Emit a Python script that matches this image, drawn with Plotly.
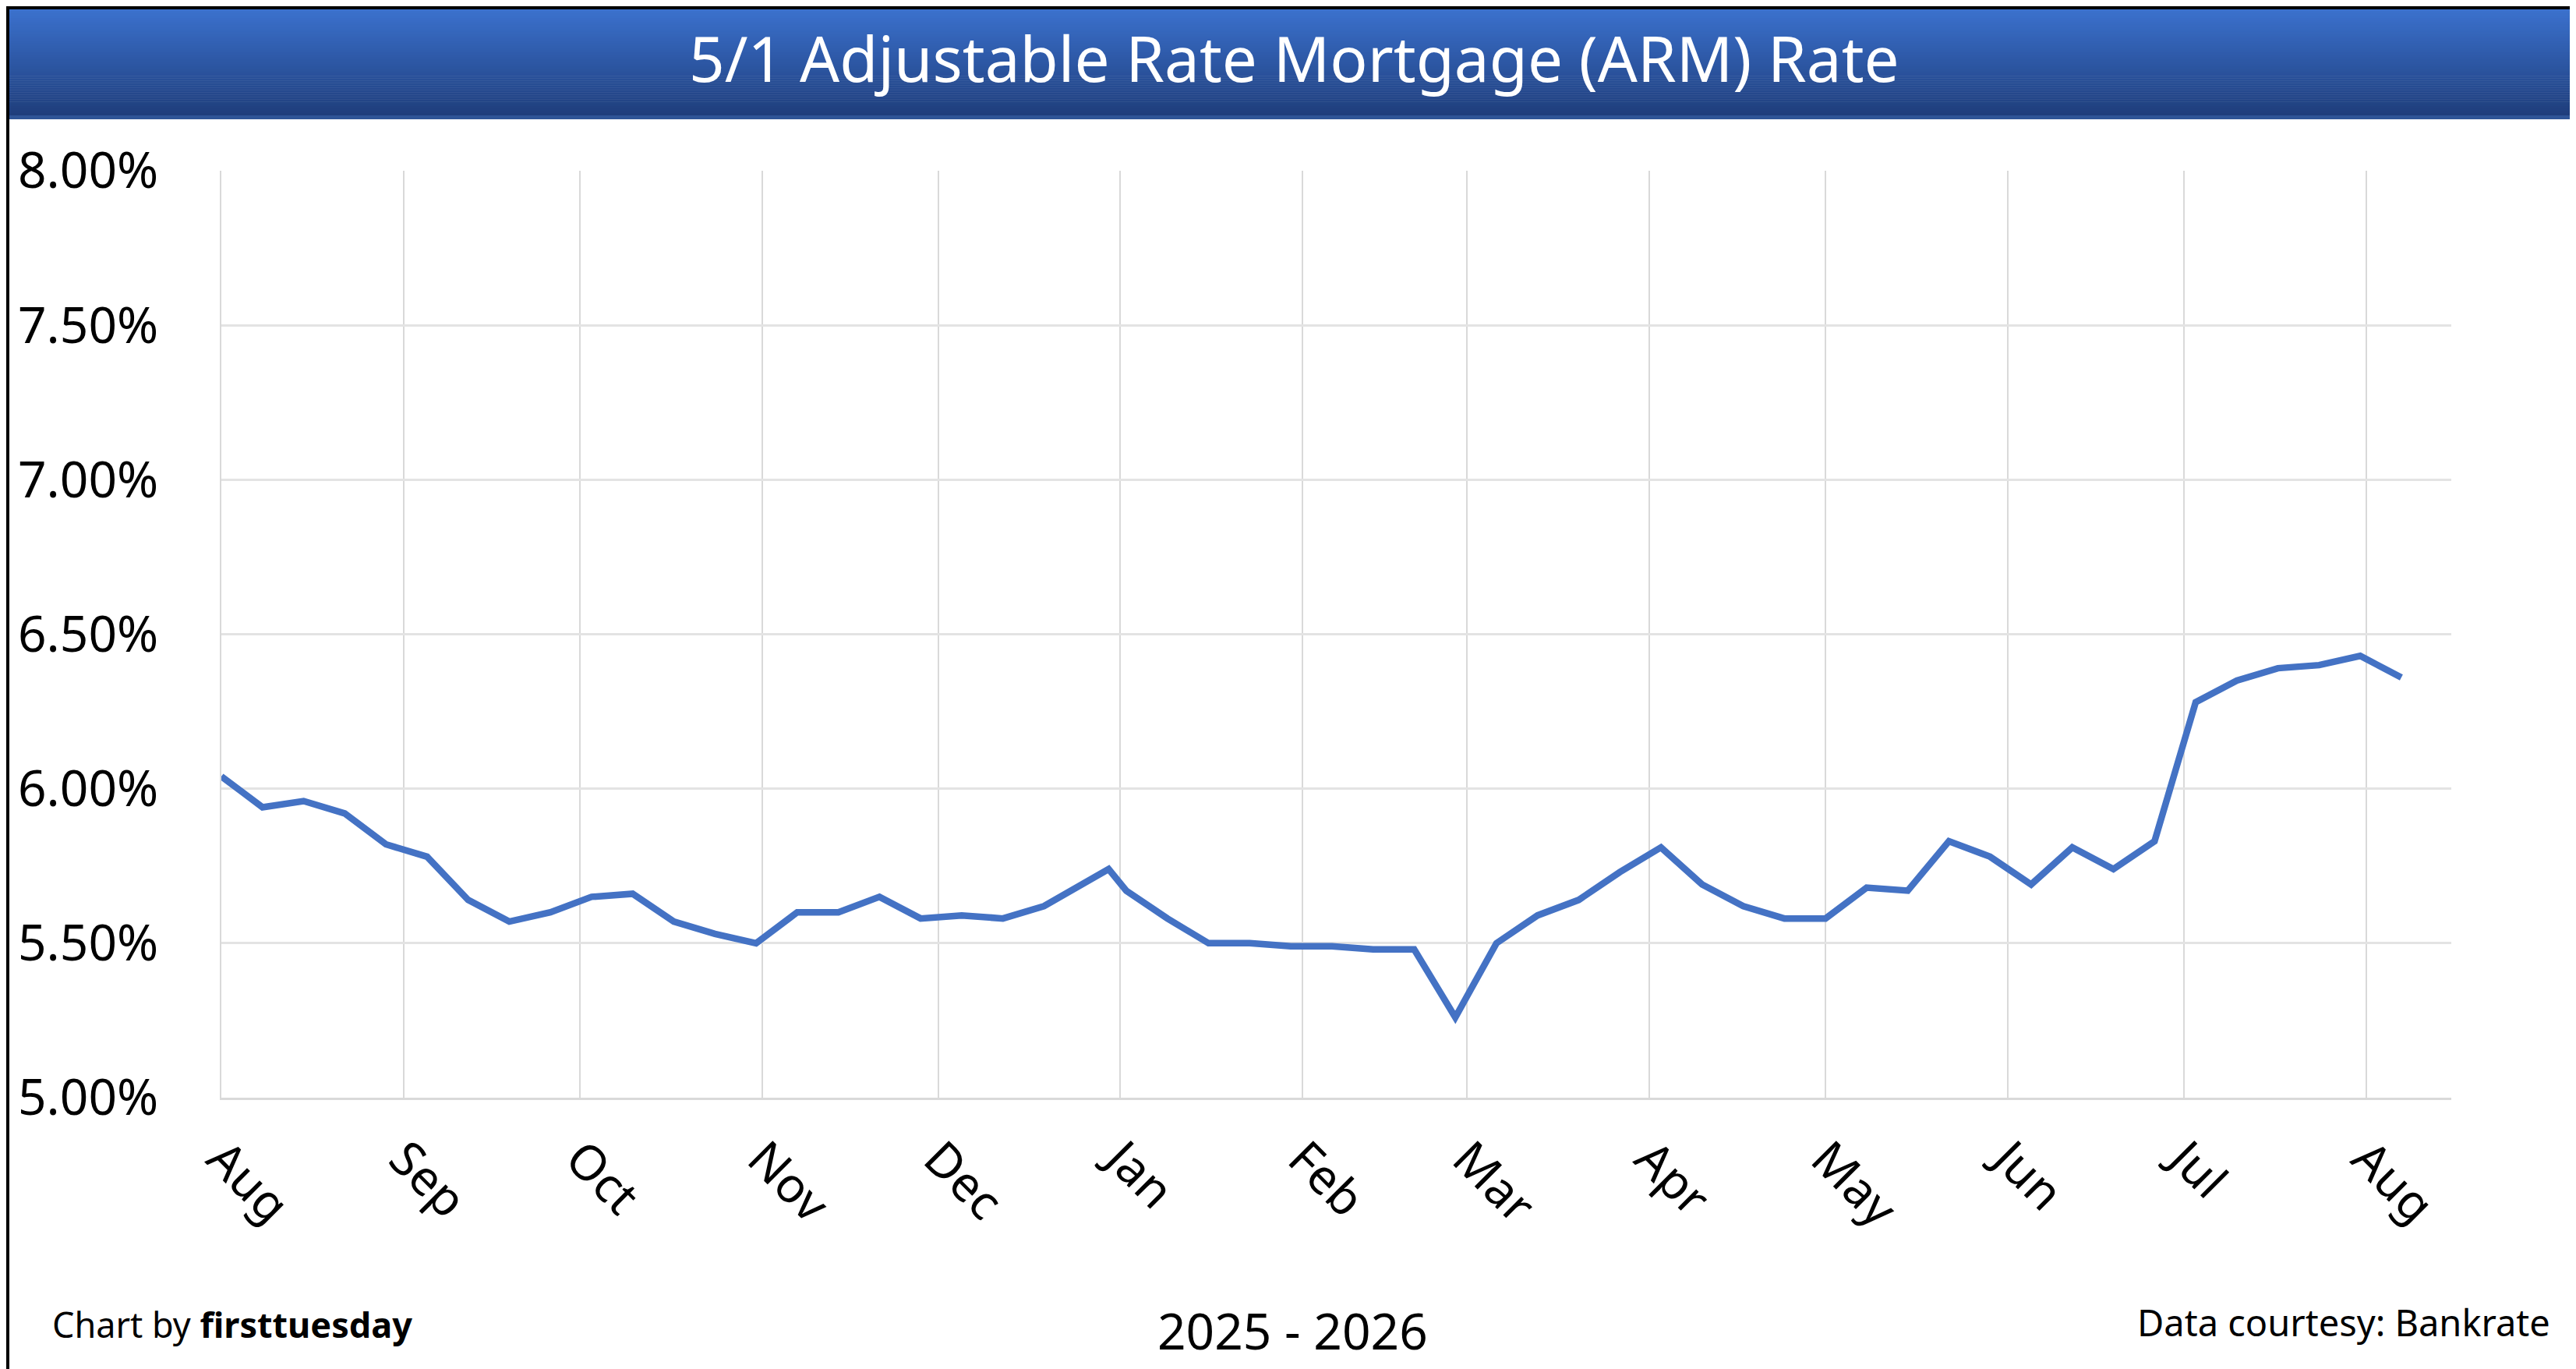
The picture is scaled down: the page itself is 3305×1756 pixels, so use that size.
import plotly.graph_objs as go

# weekly 5/1 ARM rate (percent), Bankrate
dates = ["2025-08-01", "2025-08-08", "2025-08-15", "2025-08-22", "2025-08-29",
         "2025-09-05", "2025-09-12", "2025-09-19", "2025-09-26",
         "2025-10-03", "2025-10-10", "2025-10-17", "2025-10-24", "2025-10-31",
         "2025-11-07", "2025-11-14", "2025-11-21", "2025-11-28",
         "2025-12-05", "2025-12-12", "2025-12-19", "2025-12-30",
         "2026-01-02", "2026-01-09", "2026-01-16", "2026-01-23", "2026-01-30",
         "2026-02-06", "2026-02-13", "2026-02-20", "2026-02-27",
         "2026-03-06", "2026-03-13", "2026-03-20", "2026-03-27",
         "2026-04-03", "2026-04-10", "2026-04-17", "2026-04-24",
         "2026-05-01", "2026-05-08", "2026-05-15", "2026-05-22", "2026-05-29",
         "2026-06-05", "2026-06-12", "2026-06-19", "2026-06-26",
         "2026-07-03", "2026-07-10", "2026-07-17", "2026-07-24", "2026-07-31",
         "2026-08-07"]

rates = [6.04, 5.94, 5.96, 5.92, 5.82,
         5.78, 5.64, 5.57, 5.60,
         5.65, 5.66, 5.57, 5.53, 5.50,
         5.60, 5.60, 5.65, 5.58,
         5.59, 5.58, 5.62, 5.74,
         5.67, 5.58, 5.50, 5.50, 5.49,
         5.49, 5.48, 5.48, 5.26,
         5.50, 5.59, 5.64, 5.73,
         5.81, 5.69, 5.62, 5.58,
         5.58, 5.68, 5.67, 5.83, 5.78,
         5.69, 5.81, 5.74, 5.83,
         6.28, 6.35, 6.39, 6.40, 6.43,
         6.36]

month_ticks = ["2025-08-01", "2025-09-01", "2025-10-01", "2025-11-01", "2025-12-01",
               "2026-01-01", "2026-02-01", "2026-03-01", "2026-04-01", "2026-05-01",
               "2026-06-01", "2026-07-01", "2026-08-01"]
month_labels = ["Aug", "Sep", "Oct", "Nov", "Dec", "Jan", "Feb", "Mar", "Apr",
                "May", "Jun", "Jul", "Aug"]

y_ticks = [5.0, 5.5, 6.0, 6.5, 7.0, 7.5, 8.0]
y_labels = ["5.00%", "5.50%", "6.00%", "6.50%", "7.00%", "7.50%", "8.00%"]

title = "5/1 Adjustable Rate Mortgage (ARM) Rate"
FONT = "Noto Sans"

# canvas and plot area in pixels
W, H = 3305, 1756
L, R, T, B = 276, 168, 211, 356
PW = W - L - R
PH = H - T - B

def px(x):
    return (x - L) / PW

def py(y):
    return 1 - (y - T) / PH

fig = go.Figure()

fig.add_scatter(x=dates, y=rates, mode='lines',
                line=dict(color='#4472C4', width=8.5), showlegend=False)

# title bar with a vertical gradient (stripes)
top_rgb = (59, 113, 205)
bot_rgb = (31, 62, 124)
y0, y1 = 3, 140
n = 46
step = (y1 - y0) / n
for i in range(n):
    t = i / (n - 1)
    c = tuple(int(round(top_rgb[k] + (bot_rgb[k] - top_rgb[k]) * t)) for k in range(3))
    fig.add_shape(type='rect', xref='paper', yref='paper', layer='below',
                  x0=px(0), x1=px(W), y0=py(y0 + step * (i + 1) + 0.5), y1=py(y0 + step * i),
                  fillcolor='rgb(%d,%d,%d)' % c, line_width=0)
fig.add_shape(type='rect', xref='paper', yref='paper', layer='below',
              x0=px(0), x1=px(W), y0=py(145), y1=py(140),
              fillcolor='#2F5597', line_width=0)

# outer black frame
fig.add_shape(type='rect', xref='paper', yref='paper',
              x0=px(2), x1=px(W - 2), y0=py(H - 2.5), y1=py(2),
              line=dict(color='black', width=4))

fig.add_annotation(text=title, xref='paper', yref='paper', x=px(W / 2), y=py(66),
                   xanchor='center', yanchor='middle', showarrow=False,
                   font=dict(family=FONT, size=80, color='white'))

fig.add_annotation(text="Chart by <b>firsttuesday</b>", xref='paper', yref='paper',
                   x=px(57), y=py(1690), xanchor='left', yanchor='middle', showarrow=False,
                   font=dict(family=FONT, size=45, color='black'))
fig.add_annotation(text="2025 - 2026", xref='paper', yref='paper',
                   x=px(1650), y=py(1698), xanchor='center', yanchor='middle', showarrow=False,
                   font=dict(family=FONT, size=64, color='black'))
fig.add_annotation(text="Data courtesy: Bankrate", xref='paper', yref='paper',
                   x=px(3266), y=py(1688), xanchor='right', yanchor='middle', showarrow=False,
                   font=dict(family=FONT, size=47, color='black'))

fig.update_xaxes(type='date', range=["2025-08-01", "2026-08-15 12:00"],
                 tickvals=month_ticks, ticktext=month_labels, tickangle=45,
                 showgrid=True, gridcolor='#D9D9D9', gridwidth=2,
                 showline=True, linecolor='#D9D9D9', linewidth=3,
                 ticks='', ticklabelstandoff=14, zeroline=False,
                 tickfont=dict(family=FONT, size=62, color='black'))

fig.update_yaxes(range=[5, 8], tickvals=y_ticks, ticktext=y_labels,
                 showgrid=True, gridcolor='#E3E3E3', gridwidth=3,
                 showline=True, linecolor='#D9D9D9', linewidth=2,
                 zeroline=False, ticks='', ticklabelstandoff=66,
                 tickfont=dict(family=FONT, size=64, color='black'))

fig.update_layout(width=W, height=H, autosize=False,
                  margin=dict(l=L, r=R, t=T, b=B, pad=0),
                  paper_bgcolor='white', plot_bgcolor='white',
                  font=dict(family=FONT))

fig.write_html("out.html")
